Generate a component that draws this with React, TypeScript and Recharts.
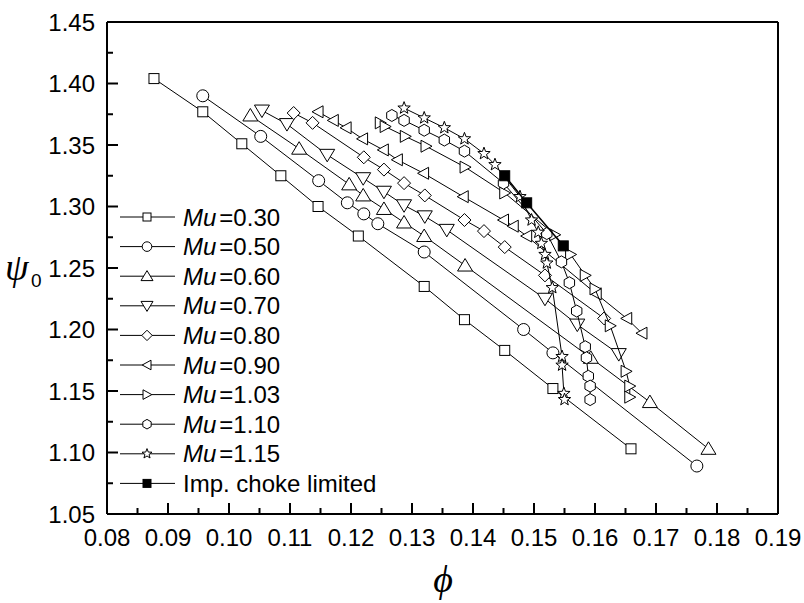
import React from "react";
import { ScatterChart, Scatter, XAxis, YAxis } from "recharts";

// [phi, psi0]
const MU_030 = [
  [0.0877, 1.404], [0.0957, 1.377], [0.1021, 1.351], [0.1085, 1.325], [0.1146, 1.300],
  [0.1212, 1.276], [0.132, 1.235], [0.1386, 1.208], [0.1452, 1.183], [0.1531, 1.152],
  [0.1659, 1.103],
];
const MU_050 = [
  [0.0957, 1.390], [0.1052, 1.357], [0.1147, 1.321], [0.1194, 1.303], [0.1221, 1.294],
  [0.1244, 1.286], [0.132, 1.263], [0.1483, 1.200], [0.1531, 1.181], [0.1767, 1.089],
];
const MU_060 = [
  [0.1035, 1.374], [0.1115, 1.347], [0.1197, 1.318], [0.122, 1.309], [0.1254, 1.298],
  [0.1287, 1.287], [0.132, 1.276], [0.1387, 1.252], [0.1593, 1.177], [0.169, 1.141],
  [0.1786, 1.103],
];
const MU_070 = [
  [0.1054, 1.378], [0.1095, 1.367], [0.1161, 1.342], [0.122, 1.323], [0.1254, 1.312],
  [0.1287, 1.301], [0.1321, 1.292], [0.1357, 1.281], [0.1518, 1.225], [0.1571, 1.204],
  [0.1639, 1.180],
];
const MU_080 = [
  [0.1106, 1.376], [0.1137, 1.368], [0.1221, 1.340], [0.1254, 1.330], [0.1287, 1.319],
  [0.1321, 1.309], [0.1386, 1.289], [0.1418, 1.280], [0.1452, 1.267], [0.1518, 1.244],
  [0.1615, 1.209],
];
const MU_090 = [
  [0.1146, 1.377], [0.1171, 1.370], [0.1192, 1.364], [0.1219, 1.355], [0.1253, 1.346],
  [0.1276, 1.338], [0.1319, 1.327], [0.1384, 1.308], [0.145, 1.289], [0.1466, 1.284],
  [0.1488, 1.276], [0.1602, 1.229], [0.1652, 1.209], [0.1677, 1.197],
];
const MU_103 = [
  [0.1248, 1.368], [0.1256, 1.365], [0.1289, 1.357], [0.1323, 1.349], [0.1387, 1.332],
  [0.1452, 1.311], [0.1534, 1.277], [0.156, 1.261], [0.1584, 1.244], [0.1600, 1.233],
  [0.1625, 1.203], [0.1651, 1.166], [0.1657, 1.154], [0.1657, 1.145],
];
const MU_110 = [
  [0.1267, 1.374], [0.1287, 1.370], [0.132, 1.362], [0.1353, 1.354], [0.1386, 1.345],
  [0.1450, 1.319], [0.1521, 1.278], [0.1545, 1.255], [0.1558, 1.238], [0.157, 1.215],
  [0.1584, 1.186], [0.1586, 1.177], [0.1589, 1.162], [0.1592, 1.154], [0.1592, 1.143],
];
const MU_115 = [
  [0.1287, 1.380], [0.132, 1.372], [0.1353, 1.364], [0.1386, 1.355], [0.1418, 1.343],
  [0.1436, 1.334], [0.1477, 1.308], [0.1496, 1.289], [0.1507, 1.279], [0.1512, 1.270],
  [0.1518, 1.261], [0.1521, 1.254], [0.153, 1.234], [0.1546, 1.178], [0.1546, 1.171],
  [0.1549, 1.148], [0.155, 1.143],
];
const CHOKE = [[0.1452, 1.325], [0.1488, 1.303], [0.1548, 1.268]];

const X_TICKS = [0.08, 0.09, 0.10, 0.11, 0.12, 0.13, 0.14, 0.15, 0.16, 0.17, 0.18, 0.19];
const Y_TICKS = [1.05, 1.10, 1.15, 1.20, 1.25, 1.30, 1.35, 1.40, 1.45];

const SERIES = [
  { label: "0.30", kind: "square", data: MU_030 },
  { label: "0.50", kind: "circle", data: MU_050 },
  { label: "0.60", kind: "up", data: MU_060 },
  { label: "0.70", kind: "down", data: MU_070 },
  { label: "0.80", kind: "diamond", data: MU_080 },
  { label: "0.90", kind: "left", data: MU_090 },
  { label: "1.03", kind: "right", data: MU_103 },
  { label: "1.10", kind: "hex", data: MU_110 },
  { label: "1.15", kind: "star", data: MU_115 },
];

const FONT = "'Liberation Sans', Arial, sans-serif";
const SERIF = "'Liberation Serif', 'Times New Roman', serif";

// major ticks plus a minor tick halfway between each pair
function withMinor(ticks: number[]) {
  const out: number[] = [];
  ticks.forEach((t, i) => {
    out.push(t);
    if (i < ticks.length - 1) out.push(+((t + ticks[i + 1]) / 2).toFixed(4));
  });
  return out;
}
const isMajor = (list: number[], v: number) => list.some((m) => Math.abs(m - v) < 1e-6);

function Marker({ kind, cx, cy, k = 1 }: { kind: string; cx: number; cy: number; k?: number }) {
  const st = { fill: "#fff", stroke: "#000", strokeWidth: 1 };
  const p = (pts: number[][]) => pts.map(([a, b]) => `${cx + a * k},${cy + b * k}`).join(" ");
  switch (kind) {
    case "square":
      return <rect x={cx - 5 * k} y={cy - 5 * k} width={10 * k} height={10 * k} {...st} />;
    case "filled":
      return <rect x={cx - 5 * k} y={cy - 5 * k} width={10 * k} height={10 * k} fill="#000" stroke="#000" />;
    case "circle":
      return <circle cx={cx} cy={cy} r={6 * k} {...st} />;
    case "up":
      return <polygon points={p([[0, -7], [-7.5, 5.5], [7.5, 5.5]])} {...st} />;
    case "down":
      return <polygon points={p([[0, 7], [-7.5, -5.5], [7.5, -5.5]])} {...st} />;
    case "diamond":
      return <polygon points={p([[0, -6.5], [6.5, 0], [0, 6.5], [-6.5, 0]])} {...st} />;
    case "left":
      return <polygon points={p([[-6, 0], [5, -6], [5, 6]])} {...st} />;
    case "right":
      return <polygon points={p([[6, 0], [-5, -6], [-5, 6]])} {...st} />;
    case "hex": {
      const pts = [0, 1, 2, 3, 4, 5].map((i) => {
        const a = (Math.PI / 3) * i - Math.PI / 2;
        return [6 * Math.cos(a), 6 * Math.sin(a)];
      });
      return <polygon points={p(pts)} {...st} />;
    }
    case "star": {
      const pts: number[][] = [];
      for (let i = 0; i < 10; i++) {
        const r = i % 2 === 0 ? 6.5 : 2.7;
        const a = (Math.PI / 5) * i - Math.PI / 2;
        pts.push([r * Math.cos(a), r * Math.sin(a)]);
      }
      return <polygon points={p(pts)} {...st} />;
    }
    default:
      return null;
  }
}

const BottomTick = (props: any) => {
  const { x, y, payload } = props;
  const major = isMajor(X_TICKS, payload.value);
  return (
    <g>
      <line x1={x} x2={x} y1={y} y2={y - (major ? 11 : 6)} stroke="#000" strokeWidth={2} />
      {major && (
        <text x={x} y={y + 32} textAnchor="middle" fontSize={24} fontFamily={FONT} fill="#000">
          {payload.value.toFixed(2)}
        </text>
      )}
    </g>
  );
};

const TopTick = (props: any) => {
  const { x, y, payload } = props;
  const major = isMajor(X_TICKS, payload.value);
  return <line x1={x} x2={x} y1={y} y2={y + (major ? 11 : 6)} stroke="#000" strokeWidth={2} />;
};

const LeftTick = (props: any) => {
  const { x, y, payload } = props;
  const major = isMajor(Y_TICKS, payload.value);
  return (
    <g>
      <line x1={x} x2={x + (major ? 11 : 6)} y1={y} y2={y} stroke="#000" strokeWidth={2} />
      {major && (
        <text x={x - 12} y={y + 8.5} textAnchor="end" fontSize={24} fontFamily={FONT} fill="#000">
          {payload.value.toFixed(2)}
        </text>
      )}
    </g>
  );
};

const RightTick = (props: any) => {
  const { x, y, payload } = props;
  const major = isMajor(Y_TICKS, payload.value);
  return <line x1={x} x2={x - (major ? 11 : 6)} y1={y} y2={y} stroke="#000" strokeWidth={2} />;
};

function LegendBox() {
  const rows = [
    ...SERIES.map((s) => ({ kind: s.kind, label: s.label, mu: true })),
    { kind: "filled", label: "Imp. choke limited", mu: false },
  ];
  return (
    <svg width={804} height={603} style={{ position: "absolute", left: 0, top: 0, pointerEvents: "none" }}>
      {rows.map((r, i) => {
        const cy = 217 + i * 29.6;
        return (
          <g key={r.label}>
            <line x1={120} x2={175} y1={cy} y2={cy} stroke="#000" strokeWidth={1} />
            <Marker kind={r.kind} cx={147} cy={cy} k={0.8} />
            <text x={183} y={cy + 8.5} fontSize={24} fontFamily={FONT} fill="#000">
              {r.mu ? (
                <>
                  <tspan fontStyle="italic">Mu</tspan>
                  <tspan dx={3}>={r.label}</tspan>
                </>
              ) : (
                r.label
              )}
            </text>
          </g>
        );
      })}
      <text x={443} y={592} textAnchor="middle" fontSize={38} fontStyle="italic" fontFamily={SERIF} fill="#000">
        ϕ
      </text>
      <text x={5} y={280} fontSize={38} fontStyle="italic" fontFamily={SERIF} fill="#000">
        ψ
      </text>
      <text x={31} y={287} fontSize={19} fontFamily={FONT} fill="#000">
        0
      </text>
    </svg>
  );
}

export default function App() {
  const xTicks = withMinor(X_TICKS);
  const yTicks = withMinor(Y_TICKS);
  return (
    <div style={{ position: "absolute", left: 0, top: 0, width: 804, height: 603, background: "#fff" }}>
      <ScatterChart width={804} height={603} margin={{ top: 21, right: 25, bottom: 29, left: 47 }}>
        <XAxis dataKey="phi" type="number" domain={[0.08, 0.19]} ticks={xTicks} interval={0}
          tickSize={0} tickMargin={0} tickLine={false} tick={BottomTick} height={60}
          axisLine={{ stroke: "#000", strokeWidth: 2 }} />
        <XAxis xAxisId="top" orientation="top" type="number" domain={[0.08, 0.19]} ticks={xTicks}
          interval={0} tickSize={0} tickMargin={0} tickLine={false} tick={TopTick} height={1}
          axisLine={{ stroke: "#000", strokeWidth: 2 }} />
        <YAxis dataKey="psi" type="number" domain={[1.05, 1.45]} ticks={yTicks} interval={0}
          tickSize={0} tickMargin={0} tickLine={false} tick={LeftTick} width={60}
          axisLine={{ stroke: "#000", strokeWidth: 2 }} />
        <YAxis yAxisId="right" orientation="right" type="number" domain={[1.05, 1.45]} ticks={yTicks}
          interval={0} tickSize={0} tickMargin={0} tickLine={false} tick={RightTick} width={1}
          axisLine={{ stroke: "#000", strokeWidth: 2 }} />
        {SERIES.map((s) => (
          <Scatter key={s.label} name={`Mu=${s.label}`}
            data={s.data.map(([phi, psi]) => ({ phi, psi }))}
            line={{ stroke: "#000", strokeWidth: 1 }} lineType="joint"
            shape={(p: any) => <Marker kind={s.kind} cx={p.cx} cy={p.cy} />}
            isAnimationActive={false} />
        ))}
        <Scatter name="Imp. choke limited" data={CHOKE.map(([phi, psi]) => ({ phi, psi }))}
          line={{ stroke: "#000", strokeWidth: 1.5 }} lineType="joint"
          shape={(p: any) => <Marker kind="filled" cx={p.cx} cy={p.cy} />}
          isAnimationActive={false} />
      </ScatterChart>
      <LegendBox />
    </div>
  );
}
